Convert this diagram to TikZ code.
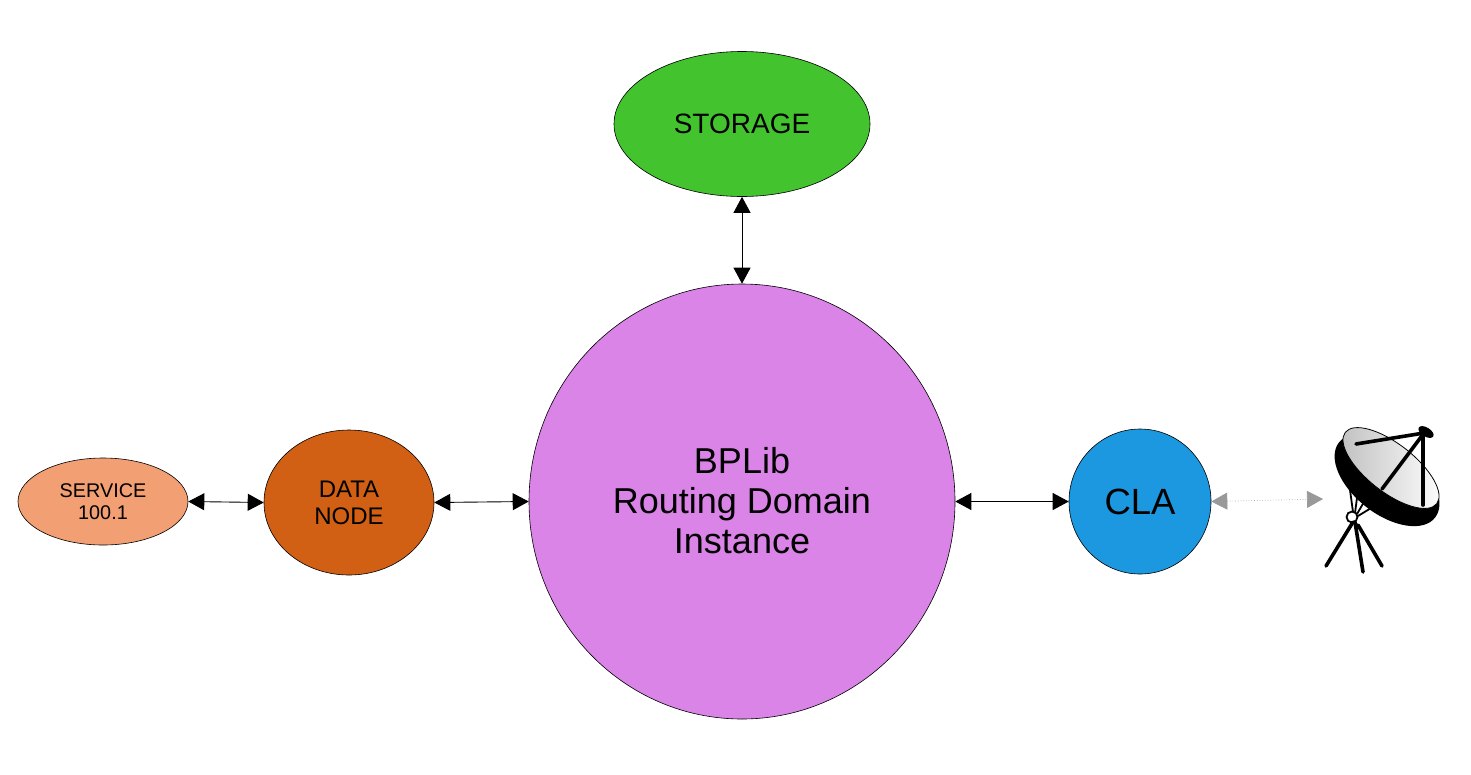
\documentclass[tikz,border=0pt]{standalone}
\usepackage{fontspec}
\setmainfont{Liberation Sans}
\usetikzlibrary{shapes.geometric,arrows.meta}
\definecolor{storagec}{HTML}{43C42F}
\definecolor{bplibc}{HTML}{DB84E8}
\definecolor{clac}{HTML}{1C98E0}
\definecolor{datac}{HTML}{D16015}
\definecolor{servc}{HTML}{F29F73}
\tikzset{
  blob/.style={ellipse,draw=black,line width=0.6pt,inner sep=0pt,align=center,text=black},
  link/.style={line width=0.9pt,draw=black,{Triangle[length=16pt,width=17pt]}-{Triangle[length=16pt,width=17pt]}},
  radio/.style={line width=0.7pt,draw=black!35,dotted,{Triangle[length=16pt,width=17pt,color=black!40]}-{Triangle[length=16pt,width=17pt,color=black!40]}},
  pole/.style={line width=3.6pt,draw=black,line cap=round}
}
\begin{document}
\begin{tikzpicture}[x=1pt,y=-1pt]
\useasboundingbox (0,0) rectangle (1471,774);
\node[blob,fill=storagec,minimum width=256pt,minimum height=145pt,font=\fontsize{28}{32}\selectfont] (storage) at (742,124) {STORAGE};
\node[blob,fill=bplibc,minimum width=426pt,minimum height=435pt,font=\fontsize{36}{40}\selectfont] (bplib) at (742,501.5) {BPLib\\Routing Domain\\Instance\rule[-2pt]{0pt}{1pt}};
\node[blob,fill=clac,minimum width=142pt,minimum height=145pt,font=\fontsize{36.5}{40}\selectfont] (cla) at (1140,501.5) {CLA};
\node[blob,fill=datac,minimum width=170pt,minimum height=145pt,font=\fontsize{24}{27}\selectfont] (data) at (349,502.5) {DATA\\NODE};
\node[blob,fill=servc,minimum width=170pt,minimum height=87pt,font=\fontsize{19.8}{22}\selectfont] (service) at (103,501.5) {SERVICE\\100.1};
\coordinate (dish) at (1323,499);
\draw[link] (storage.south) -- (bplib.north);
\draw[link] (bplib.east) -- (cla.west);
\draw[link] (data.east) -- (bplib.west);
\draw[link] (service.east) -- (data.west);
\draw[radio] (cla.east) -- (dish);
% satellite dish
\draw[pole] (1353,522) -- (1326,566);
\draw[pole] (1355,522) -- (1363,572);
\draw[pole] (1358,525) -- (1382,566);
\draw[line width=1.8pt] (1352,517) circle (5.5pt);
\draw[line width=1.8pt] (1350,490) -- (1353,512) (1358,490) -- (1355,513) (1368,495) -- (1357,514) (1376,505) -- (1358,516);
\fill[black,rotate around={-38:(1387,480)}] (1387,480) ellipse (61pt and 34pt);
\shade[left color=black!25,right color=white,draw=black,line width=0.8pt,rotate around={-38:(1391,468)}] (1391,468) ellipse (58pt and 24pt);
\draw[pole] (1356,444) -- (1424,433);
\draw[pole] (1424,433) -- (1382,489);
\draw[pole] (1423,436) -- (1423,505);
\fill[black,rotate around={-32:(1426,432)}] (1426,432) ellipse (8.5pt and 4.5pt);
\end{tikzpicture}
\end{document}
